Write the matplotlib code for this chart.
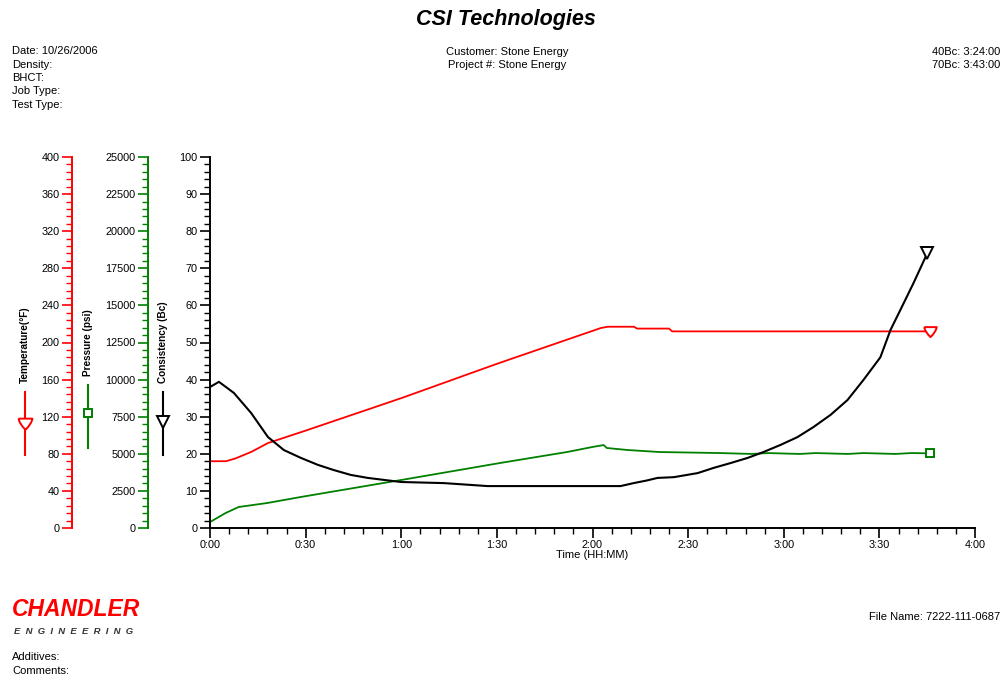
import matplotlib
matplotlib.use("Agg")
import matplotlib.pyplot as plt
from matplotlib.ticker import MultipleLocator, FuncFormatter
from matplotlib.path import Path
from matplotlib.lines import Line2D

plt.rcParams['font.family'] = ['Liberation Sans', 'DejaVu Sans']

# ---------------- data (time in minutes) ----------------
temp_time = [0, 5, 8, 12.9, 18.2, 30, 60, 90, 122.6, 124.8, 133, 134, 144, 145, 226]
temp_vals = [72, 72, 75, 82, 91.6, 105, 140, 177, 215.6, 217, 217, 215, 215, 212, 212]

pres_time = [0, 4.9, 9, 18, 28.5, 60, 91, 112, 120, 123.5, 124.5, 131, 141, 160,
             170, 175, 185, 190, 200, 205, 215, 220, 226]
pres_vals = [400, 1010, 1415, 1685, 2090, 3235, 4380, 5120, 5460, 5590, 5390, 5256, 5120, 5050,
             4990, 5050, 4990, 5050, 4990, 5050, 4990, 5050, 5030]

cons_time = [0, 2.8, 7.5, 12.9, 18.2, 23.2, 28.5, 33.9, 38.9, 44.2, 49.5, 59.9, 73.4, 87.1,
             128.8, 132.9, 137, 140.4, 145.5, 153, 158, 163.3, 168.7, 173.7, 179, 184.3, 189.3,
             194.7, 200, 205, 210.3, 213.5, 216.6, 220.7, 225]
cons_vals = [38, 39.4, 36.4, 31, 24.5, 21, 18.9, 17, 15.6, 14.3, 13.5, 12.4, 12.1, 11.3,
             11.3, 12.1, 12.8, 13.5, 13.7, 14.8, 16.2, 17.5, 18.9, 20.5, 22.4, 24.5, 27.2,
             30.5, 34.5, 39.9, 46, 53.4, 58.8, 66, 74]

time_ticks = [0, 30, 60, 90, 120, 150, 180, 210, 240]

header_left = ["Date: 10/26/2006", "Density:", "BHCT:", "Job Type:", "Test Type:"]
header_center = ["Customer: Stone Energy", "Project #: Stone Energy"]
header_right = ["40Bc: 3:24:00", "70Bc: 3:43:00"]

# ---------------- figure ----------------
W, H = 1005, 677
fig = plt.figure(figsize=(W / 100, H / 100), dpi=100)

def fx(px):
    return px / W

def fy(py):
    return 1 - py / H

ax_left, ax_right, ax_top, ax_bot = 210, 975, 157, 528
ax = fig.add_axes([fx(ax_left), fy(ax_bot), fx(ax_right - ax_left), (ax_bot - ax_top) / H])

RED = '#ff0000'
GREEN = '#008000'
BLACK = '#000000'
TICK_FS = 7.8
TXT_FS = 8.0

# consistency (main)
ax.plot(cons_time, cons_vals, color=BLACK, lw=1.5, zorder=5)
ax.plot([cons_time[-1]], [cons_vals[-1]], marker='v', ms=8, mfc='white', mec=BLACK, mew=1.4,
        color=BLACK, zorder=6, clip_on=False)
ax.set_xlim(0, 240)
ax.set_ylim(0, 100)
ax.set_xticks(time_ticks)
ax.xaxis.set_minor_locator(MultipleLocator(6))
ax.xaxis.set_major_formatter(FuncFormatter(lambda v, p: f"{int(v // 60)}:{int(v % 60):02d}"))
ax.yaxis.set_major_locator(MultipleLocator(10))
ax.yaxis.set_minor_locator(MultipleLocator(2))
for s in ['top', 'right']:
    ax.spines[s].set_visible(False)
ax.spines['left'].set_linewidth(1.4)
ax.spines['bottom'].set_linewidth(1.4)
ax.tick_params(axis='both', which='major', length=7, width=1.2, labelsize=TICK_FS, pad=2)
ax.tick_params(axis='both', which='minor', length=4, width=1.0)
ax.set_xlabel("Time (HH:MM)", fontsize=TXT_FS, labelpad=0)

# temperature axis
axt = ax.twinx()
axt.set_ylim(0, 400)
axt.plot(temp_time, temp_vals, color=RED, lw=1.3, zorder=4)
shield = Path([(-1, 0.7), (1, 0.7), (0.85, -0.1), (0, -0.9), (-0.85, -0.1), (-1, 0.7)],
              [Path.MOVETO, Path.LINETO, Path.CURVE3, Path.CURVE3, Path.CURVE3, Path.CURVE3])
axt.plot([temp_time[-1]], [temp_vals[-1]], marker=shield, ms=9, mfc='white', mec=RED, mew=1.4,
         color=RED, zorder=6, clip_on=False)
axt.yaxis.set_label_position('left')
axt.yaxis.set_ticks_position('left')
axt.spines['left'].set_position(('axes', (72 - ax_left) / (ax_right - ax_left)))
axt.spines['left'].set_color(RED)
axt.spines['left'].set_linewidth(1.4)
for s in ['top', 'right', 'bottom']:
    axt.spines[s].set_visible(False)
axt.yaxis.set_major_locator(MultipleLocator(40))
axt.yaxis.set_minor_locator(MultipleLocator(8))
axt.tick_params(axis='y', which='major', length=7, width=1.2, color=RED, labelsize=TICK_FS, pad=2)
axt.tick_params(axis='y', which='minor', length=4, width=1.0, color=RED)

# pressure axis
axp = ax.twinx()
axp.set_ylim(0, 25000)
axp.plot(pres_time, pres_vals, color=GREEN, lw=1.3, zorder=4)
axp.plot([pres_time[-1]], [pres_vals[-1]], marker='s', ms=6, mfc='white', mec=GREEN, mew=1.4,
         color=GREEN, zorder=6, clip_on=False)
axp.yaxis.set_label_position('left')
axp.yaxis.set_ticks_position('left')
axp.spines['left'].set_position(('axes', (148 - ax_left) / (ax_right - ax_left)))
axp.spines['left'].set_color(GREEN)
axp.spines['left'].set_linewidth(1.4)
for s in ['top', 'right', 'bottom']:
    axp.spines[s].set_visible(False)
axp.yaxis.set_major_locator(MultipleLocator(2500))
axp.yaxis.set_minor_locator(MultipleLocator(500))
axp.tick_params(axis='y', which='major', length=7, width=1.2, color=GREEN, labelsize=TICK_FS, pad=2)
axp.tick_params(axis='y', which='minor', length=4, width=1.0, color=GREEN)

ax.set_zorder(3)
ax.patch.set_visible(False)

# axis titles with legend glyphs
def axis_title(xpx, text, color, marker, line_top, line_bot, mk_y, ms):
    fig.text(fx(xpx), fy(line_top - 9), text, rotation=90, ha='center', va='bottom',
             fontsize=7.2, fontweight='bold', color='black')
    fig.add_artist(Line2D([fx(xpx), fx(xpx)], [fy(line_top), fy(line_bot)], color=color, lw=1.5,
                          transform=fig.transFigure))
    fig.add_artist(Line2D([fx(xpx)], [fy(mk_y)], marker=marker, ms=ms, mfc='white', mec=color,
                          mew=1.4, transform=fig.transFigure))

axis_title(25, "Temperature(°F)", RED, shield, 392, 455, 423, 10)
axis_title(88, "Pressure (psi)", GREEN, 's', 385, 448, 413, 6)
axis_title(163, "Consistency (Bc)", BLACK, 'v', 392, 455, 422, 8)

# header
fig.text(0.503, fy(20), "CSI Technologies", ha='center', va='center', fontsize=15.5,
         fontweight='bold', fontstyle='italic')
for i, t in enumerate(header_left):
    fig.text(fx(12), fy(51 + i * 13.5), t, ha='left', va='center', fontsize=TXT_FS)
for i, t in enumerate(header_center):
    fig.text(fx(507), fy(52 + i * 13), t, ha='center', va='center', fontsize=TXT_FS)
for i, t in enumerate(header_right):
    fig.text(fx(1000), fy(52 + i * 13), t, ha='right', va='center', fontsize=TXT_FS)

# footer
fig.text(fx(12), fy(610), "CHANDLER", ha='left', va='center', fontsize=16.5, fontweight='bold',
         fontstyle='italic', color=RED)
fig.text(fx(14), fy(632), "E  N  G  I  N  E  E  R  I  N  G", ha='left', va='center', fontsize=6.8,
         fontweight='bold', fontstyle='italic', color='#333333')
fig.text(fx(12), fy(657), "Additives:", ha='left', va='center', fontsize=TXT_FS)
fig.text(fx(12), fy(671), "Comments:", ha='left', va='center', fontsize=TXT_FS)
fig.text(fx(1000), fy(617), "File Name: 7222-111-0687", ha='right', va='center', fontsize=TXT_FS)

fig.savefig("out.png", dpi=100, facecolor='white')
